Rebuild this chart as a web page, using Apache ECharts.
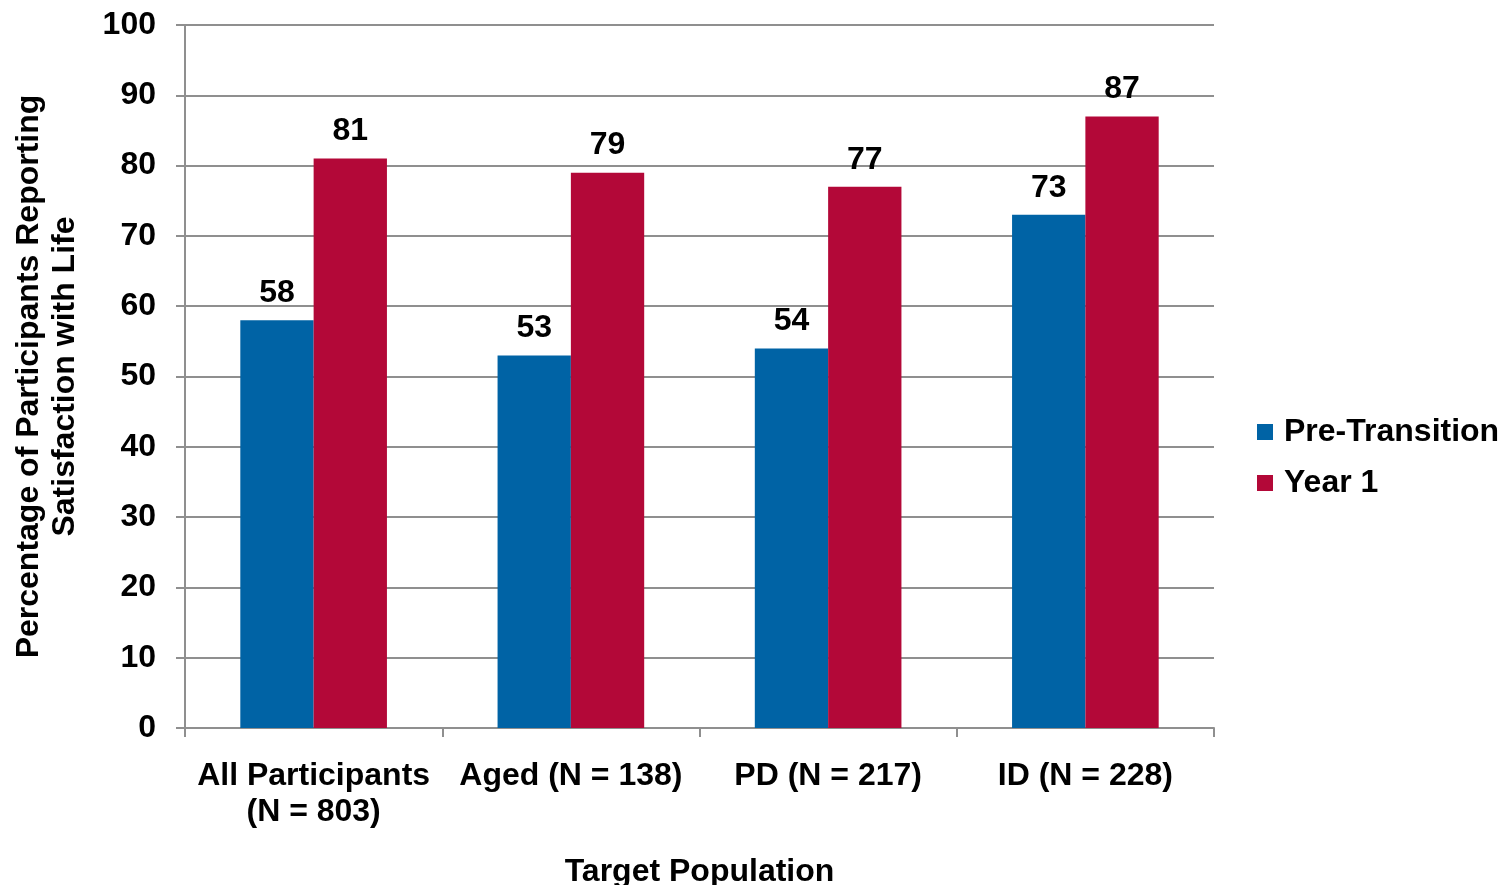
<!DOCTYPE html>
<html>
<head>
<meta charset="utf-8">
<script src="https://cdn.jsdelivr.net/npm/echarts@6/dist/echarts.min.js"></script>
<style>
  html, body { margin: 0; padding: 0; background: #fff; }
  #chart { width: 1499px; height: 885px; }
</style>
</head>
<body>
<div id="chart"></div>
<script>
// Life satisfaction by target population, before transition and after one year
const categories = ['All Participants\n(N = 803)', 'Aged (N = 138)', 'PD (N = 217)', 'ID (N = 228)'];
const preTransition = [58, 53, 54, 73];
const year1 = [81, 79, 77, 87];
const seriesNames = ['Pre-Transition', 'Year 1'];
const yTicks = { min: 0, max: 100, interval: 10 };

const FONT = '"Liberation Sans", Arial, sans-serif';
const FS = 32;
const BLUE = '#0063A5';
const RED = '#B30838';
const GRID_GRAY = '#8F8F8F';

const chart = echarts.init(document.getElementById('chart'));
const labelStyle = {
  show: true,
  position: 'top',
  distance: 11,
  fontFamily: FONT,
  fontWeight: 'bold',
  fontSize: FS,
  color: '#000'
};

chart.setOption({
  animation: false,
  textStyle: { fontFamily: FONT },
  grid: { left: 185, right: 285, top: 25, bottom: 157, containLabel: false, outerBoundsMode: 'none' },
  legend: {
    orient: 'vertical',
    left: 1257,
    top: 416,
    padding: 0,
    itemWidth: 16,
    itemHeight: 16,
    itemGap: 19,
    icon: 'rect',
    textStyle: { fontFamily: FONT, fontWeight: 'bold', fontSize: FS, color: '#000', padding: [0, 0, 0, 6] },
    data: seriesNames
  },
  xAxis: {
    type: 'category',
    data: categories,
    name: 'Target Population',
    nameLocation: 'middle',
    nameGap: 128,
    nameTextStyle: { fontFamily: FONT, fontWeight: 'bold', fontSize: FS, color: '#000' },
    axisLine: { lineStyle: { color: GRID_GRAY, width: 2 } },
    axisTick: { show: true, length: 9, lineStyle: { color: GRID_GRAY, width: 2 } },
    axisLabel: {
      margin: 30,
      fontFamily: FONT,
      fontWeight: 'bold',
      fontSize: FS,
      lineHeight: 36,
      color: '#000',
      interval: 0
    }
  },
  yAxis: {
    type: 'value',
    min: yTicks.min,
    max: yTicks.max,
    interval: yTicks.interval,
    name: 'Percentage of Participants Reporting\nSatisfaction with Life',
    nameLocation: 'middle',
    nameGap: 102,
    nameTextStyle: { fontFamily: FONT, fontWeight: 'bold', fontSize: FS, lineHeight: 36, color: '#000' },
    axisLine: { show: true, lineStyle: { color: GRID_GRAY, width: 2 } },
    axisTick: { show: true, length: 9, lineStyle: { color: GRID_GRAY, width: 2 } },
    axisLabel: { margin: 29, fontFamily: FONT, fontWeight: 'bold', fontSize: FS, color: '#000' },
    splitLine: { show: true, lineStyle: { color: GRID_GRAY, width: 2 } }
  },
  series: [
    {
      name: seriesNames[0],
      type: 'bar',
      data: preTransition,
      itemStyle: { color: BLUE },
      barGap: '0%',
      barCategoryGap: '43%',
      label: labelStyle
    },
    {
      name: seriesNames[1],
      type: 'bar',
      data: year1,
      itemStyle: { color: RED },
      label: labelStyle
    }
  ]
});
</script>
</body>
</html>
